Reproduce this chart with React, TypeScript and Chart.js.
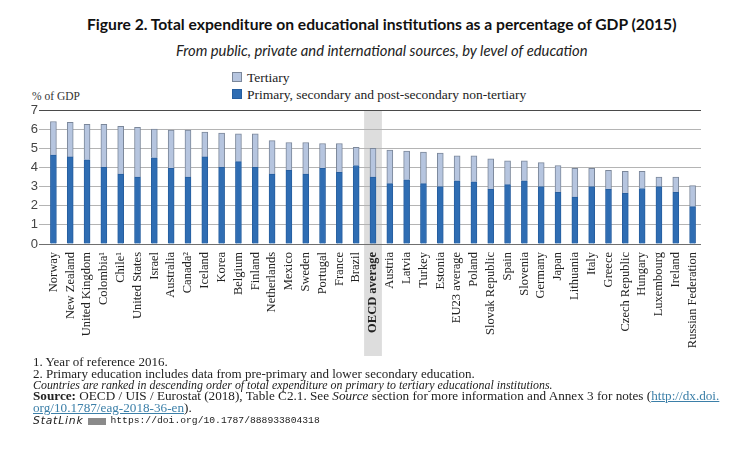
import React, { useEffect, useRef } from "react";
import { Chart, registerables } from "chart.js";

Chart.register(...registerables);

const countries = [
  "Norway", "New Zealand", "United Kingdom", "Colombia¹", "Chile¹", "United States",
  "Israel", "Australia", "Canada²", "Iceland", "Korea", "Belgium", "Finland",
  "Netherlands", "Mexico", "Sweden", "Portugal", "France", "Brazil", "OECD average",
  "Austria", "Latvia", "Turkey", "Estonia", "EU23 average", "Poland", "Slovak Republic",
  "Spain", "Slovenia", "Germany", "Japan", "Lithuania", "Italy", "Greece",
  "Czech Republic", "Hungary", "Luxembourg", "Ireland", "Russian Federation",
];

const primary = [
  4.65, 4.55, 4.4, 4.0, 3.65, 3.5, 4.5, 3.95, 3.5, 4.55, 4.0, 4.3, 4.0,
  3.65, 3.85, 3.65, 3.95, 3.75, 4.1, 3.5, 3.15, 3.35, 3.15, 3.0, 3.3, 3.25, 2.85,
  3.1, 3.3, 3.0, 2.7, 2.45, 3.0, 2.85, 2.65, 2.9, 3.0, 2.7, 1.95,
];

const tertiary = [
  1.75, 1.8, 1.85, 2.25, 2.5, 2.6, 1.5, 2.0, 2.45, 1.3, 1.8, 1.45, 1.75,
  1.75, 1.45, 1.65, 1.3, 1.5, 0.95, 1.5, 1.75, 1.5, 1.65, 1.75, 1.3, 1.35, 1.6,
  1.25, 1.05, 1.25, 1.4, 1.5, 0.95, 1.0, 1.15, 0.9, 0.5, 0.8, 1.1,
];

const seriesLabels = ["Primary, secondary and post-secondary non-tertiary", "Tertiary"];
const highlightLabel = "OECD average";
const yMin = 0;
const yMax = 7;
const yStep = 1;

const PRIMARY_FILL = "#2f6db3";
const PRIMARY_BORDER = "#265e9f";
const TERTIARY_FILL = "#b6c5df";
const TERTIARY_BORDER = "#7b879a";

const highlightPlugin = {
  id: "highlightBand",
  beforeDraw(chart: any) {
    const xs = chart.scales.x;
    const idx = countries.indexOf(highlightLabel);
    if (idx < 0) return;
    const cx = xs.getPixelForValue(idx);
    const w = (xs.right - xs.left) / countries.length + 1;
    const ctx = chart.ctx;
    ctx.save();
    ctx.fillStyle = "#dddddd";
    ctx.fillRect(cx - w / 2, chart.chartArea.top, w, chart.height - chart.chartArea.top);
    ctx.restore();
  },
};

function ChartCanvas() {
  const ref = useRef<HTMLCanvasElement | null>(null);
  useEffect(() => {
    if (!ref.current) return;
    const hi = countries.indexOf(highlightLabel);
    const chart = new Chart(ref.current, {
      type: "bar",
      data: {
        labels: countries,
        datasets: [
          {
            label: seriesLabels[0],
            data: primary,
            backgroundColor: PRIMARY_FILL,
            borderColor: PRIMARY_BORDER,
            borderWidth: 1,
            barThickness: 6,
          },
          {
            label: seriesLabels[1],
            data: tertiary,
            backgroundColor: TERTIARY_FILL,
            borderColor: TERTIARY_BORDER,
            borderWidth: 1,
            barThickness: 6,
          },
        ],
      },
      options: {
        animation: false,
        responsive: false,
        maintainAspectRatio: false,
        devicePixelRatio: 1,
        layout: { padding: { top: 10, right: 30, left: 0, bottom: 0 } },
        plugins: {
          legend: { display: false },
          title: { display: false },
          tooltip: { enabled: false },
        },
        scales: {
          x: {
            stacked: true,
            grid: { display: false, drawTicks: false },
            border: { display: false },
            ticks: {
              autoSkip: false,
              maxRotation: 90,
              minRotation: 90,
              padding: 8,
              color: "#222222",
              font: (ctx: any) => ({
                family: "'Liberation Serif', serif",
                size: 12.5,
                weight: ctx.index === hi ? "bold" : "normal",
              }),
            },
            afterFit: (s: any) => {
              s.height = 112;
            },
          },
          y: {
            stacked: true,
            min: yMin,
            max: yMax,
            ticks: {
              stepSize: yStep,
              padding: 1,
              color: "#444444",
              font: { family: "'Liberation Sans', sans-serif", size: 13 },
            },
            grid: {
              tickLength: 6,
              lineWidth: 1,
              color: (ctx: any) =>
                ctx.tick && ctx.tick.value === yMax
                  ? "#4a4a4a"
                  : ctx.tick && ctx.tick.value === yMin
                  ? "#6f6f6f"
                  : "#b4b4b4",
            },
            border: { display: false },
            afterFit: (s: any) => {
              s.width = 45;
            },
          },
        },
      },
      plugins: [highlightPlugin],
    });
    return () => chart.destroy();
  }, []);
  return (
    <canvas
      ref={ref}
      width={731}
      height={256}
      style={{ position: "absolute", left: 0, top: 100, width: 731, height: 256 }}
    />
  );
}

const serif = "'Liberation Serif', 'Times New Roman', serif";

export default function App() {
  const line = (top: number, children: React.ReactNode, extra: React.CSSProperties = {}) => (
    <div
      style={{
        position: "absolute",
        left: 33,
        top,
        whiteSpace: "nowrap",
        fontFamily: serif,
        fontSize: 13,
        lineHeight: "14px",
        color: "#222",
        ...extra,
      }}
    >
      {children}
    </div>
  );
  const link = { color: "#3b7fa8", textDecoration: "underline" } as React.CSSProperties;
  return (
    <div
      style={{
        position: "absolute",
        left: 0,
        top: 0,
        width: 731,
        height: 462,
        background: "#ffffff",
        overflow: "hidden",
      }}
    >
      <div
        style={{
          position: "absolute",
          left: 87,
          top: 14,
          whiteSpace: "nowrap",
          fontFamily: "Lato, 'Open Sans', sans-serif",
          fontWeight: 700,
          fontSize: 15.65,
          lineHeight: "20px",
          color: "#111",
        }}
      >
        Figure 2. Total expenditure on educational institutions as a percentage of GDP (2015)
      </div>
      <div
        style={{
          position: "absolute",
          left: 176,
          top: 41,
          whiteSpace: "nowrap",
          fontFamily: "Lato, 'Open Sans', sans-serif",
          fontStyle: "italic",
          fontSize: 14.8,
          lineHeight: "18px",
          color: "#222",
        }}
      >
        From public, private and international sources, by level of education
      </div>
      {/* legend */}
      <div style={{ position: "absolute", left: 232, top: 72, width: 10, height: 10, background: TERTIARY_FILL, border: `1px solid ${TERTIARY_BORDER}`, boxSizing: "border-box" as const }} />
      <div style={{ position: "absolute", left: 247, top: 70, whiteSpace: "nowrap", fontFamily: serif, fontSize: 13.5, lineHeight: "15px", color: "#222" }}>
        {seriesLabels[1]}
      </div>
      <div style={{ position: "absolute", left: 232, top: 89, width: 10, height: 10, background: PRIMARY_FILL, border: `1px solid ${PRIMARY_BORDER}`, boxSizing: "border-box" as const }} />
      <div style={{ position: "absolute", left: 247, top: 87, whiteSpace: "nowrap", fontFamily: serif, fontSize: 13.5, lineHeight: "15px", color: "#222" }}>
        {seriesLabels[0]}
      </div>
      <div style={{ position: "absolute", left: 32, top: 90, whiteSpace: "nowrap", fontFamily: serif, fontSize: 11.5, lineHeight: "13px", color: "#333" }}>
        % of GDP
      </div>
      <ChartCanvas />
      {line(355, "1. Year of reference 2016.")}
      {line(367, "2. Primary education includes data from pre-primary and lower secondary education.")}
      {line(378, "Countries are ranked in descending order of total expenditure on primary to tertiary educational institutions.", { fontStyle: "italic", fontSize: 11.9 })}
      {line(389, (
        <>
          <b>Source:</b> OECD / UIS / Eurostat (2018), Table C2.1. See <i>Source</i> section for more information and Annex 3 for notes (
          <span style={link}>http://dx.doi.</span>
        </>
      ), { fontSize: 13.2 })}
      {line(401, (
        <>
          <span style={link}>org/10.1787/eag-2018-36-en</span>).
        </>
      ), { fontSize: 13.2 })}
      <div style={{ position: "absolute", left: 33, top: 414, whiteSpace: "nowrap", fontSize: 10.5, lineHeight: "14px", color: "#222", display: "flex", alignItems: "center" }}>
        <span style={{ fontFamily: "'DejaVu Sans', sans-serif", fontStyle: "italic", letterSpacing: 0.8, fontSize: 10.8 }}>StatLink</span>
        <span style={{ display: "inline-block", width: 18, height: 7, background: "#8a8a8a", margin: "0 4px 0 5px" }} />
        <span style={{ fontFamily: "'Liberation Mono', monospace", fontSize: 9.7 }}>https://doi.org/10.1787/888933804318</span>
      </div>
    </div>
  );
}
